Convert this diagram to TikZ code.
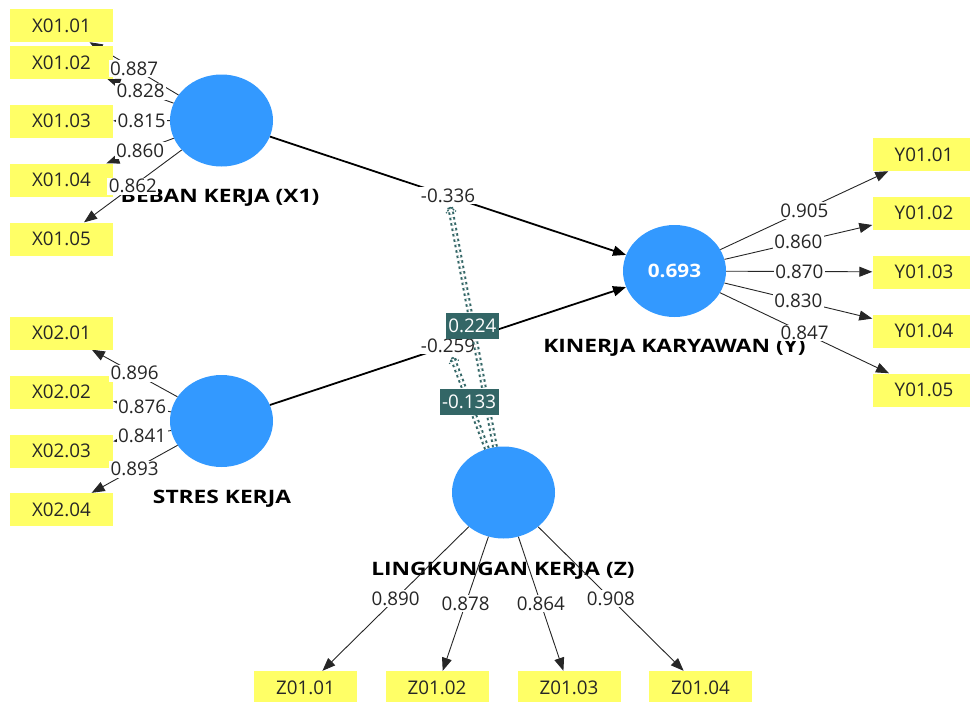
\documentclass[tikz,border=0pt]{standalone}
\usepackage{fontspec}
\setmainfont{Open Sans}
\usetikzlibrary{arrows.meta,shapes.geometric,decorations.markings}
\definecolor{lvblue}{HTML}{3399FF}
\definecolor{indyel}{HTML}{FFFF66}
\definecolor{modteal}{HTML}{336666}
\newcommand{\fs}{\fontsize{18.8}{21}\selectfont}
\newcommand{\fb}{\fontsize{18.5}{21}\selectfont\bfseries}
\newcommand{\wide}[2]{\scalebox{#1}[1]{#2}}
\begin{document}
\begin{tikzpicture}[x=1pt,y=-1pt,
  lv/.style={ellipse, fill=lvblue, minimum width=103pt, minimum height=92pt, inner sep=0pt},
  lvname/.style={anchor=base, font=\fb, text=black},
  ind/.style={rectangle, fill=indyel, minimum width=103pt, minimum height=33pt, inner sep=0pt, font=\fs, text=black!85},
  ld/.style={draw=black!85, line width=0.9pt, -{Triangle[length=13pt,width=10pt]}},
  pth/.style={draw=black, line width=1.8pt, -{Triangle[length=13pt,width=10pt]}},
  val/.style={fill=white, inner sep=1.5pt, font=\fs, text=black!85},
  modln/.style={draw=modteal, line width=2pt, double=white, double distance=1.8pt, dash pattern=on 2.5pt off 3pt},
  modtip/.style={postaction={decorate}, decoration={markings, mark=at position 1 with {\draw[modteal, line width=1.3pt, dash pattern=on 1.8pt off 1.2pt] (-3pt,0pt) -- (-8pt,5pt) (-3pt,0pt) -- (-8pt,-5pt);}}},
  modval/.style={fill=modteal, text=white, inner sep=2.5pt, minimum height=26pt, font=\fs}
]
\useasboundingbox (0,0) rectangle (970,702);
% latent variables
\node[lv] (X1) at (221.5,120.5) {};
\node[lv] (X2) at (221.5,421) {};
\node[lv, text=white, font=\fb] (Y) at (674.5,271) {\wide{1.12}{0.693}};
\node[lv] (Z) at (503.5,492.5) {};
% names
\node[lvname] (nX1) at (220,202) {\wide{1.23}{BEBAN KERJA (X1)}};
\node[lvname] (nX2) at (222,503) {\wide{1.23}{STRES KERJA}};
\node[lvname] (nY) at (674.5,352) {\wide{1.23}{KINERJA KARYAWAN (Y)}};
\node[lvname] (nZ) at (503,575) {\wide{1.23}{LINGKUNGAN KERJA (Z)}};
% indicator coordinates (boxes drawn after the arrows)
\path (61.5,25.5) coordinate (cx11) (61.5,62.5) coordinate (cx12) (61.5,121) coordinate (cx13)
      (61.5,180) coordinate (cx14) (61.5,239) coordinate (cx15)
      (61.5,333) coordinate (cx21) (61.5,392) coordinate (cx22) (61.5,451) coordinate (cx23) (61.5,509.5) coordinate (cx24)
      (924,154.5) coordinate (cy1) (924,213) coordinate (cy2) (924,272) coordinate (cy3) (924,331) coordinate (cy4) (924,390) coordinate (cy5)
      (305.5,687.5) coordinate (cz1) (437,687.5) coordinate (cz2) (569,687.5) coordinate (cz3) (700.5,687.5) coordinate (cz4);
% invisible placeholders with the box size, so arrows stop at box borders
\foreach \t in {x11,x12,x13,x14,x15,x21,x22,x23,x24,y1,y2,y3,y4,y5,z1,z2,z3,z4}
  \node[rectangle, minimum width=103pt, minimum height=33pt, inner sep=0pt] (\t) at (c\t) {};
% loading arrows
\foreach \t in {x11,x12,x13,x14,x15} \draw[ld] (X1) -- (\t);
\foreach \t in {x21,x22,x23,x24} \draw[ld] (X2) -- (\t);
\foreach \t in {y1,y2,y3,y4,y5} \draw[ld] (Y) -- (\t);
\foreach \t in {z1,z2,z3,z4} \draw[ld] (Z) -- (\t);
% indicator boxes
\node[ind] (bx11) at (cx11) {X01.01};
\node[ind] (bx12) at (cx12) {X01.02};
\node[ind] (bx13) at (cx13) {X01.03};
\node[ind] (bx14) at (cx14) {X01.04};
\node[ind] (bx15) at (cx15) {X01.05};
\node[ind] (bx21) at (cx21) {X02.01};
\node[ind] (bx22) at (cx22) {X02.02};
\node[ind] (bx23) at (cx23) {X02.03};
\node[ind] (bx24) at (cx24) {X02.04};
\node[ind] (by1) at (cy1) {Y01.01};
\node[ind] (by2) at (cy2) {Y01.02};
\node[ind] (by3) at (cy3) {Y01.03};
\node[ind] (by4) at (cy4) {Y01.04};
\node[ind] (by5) at (cy5) {Y01.05};
\node[ind] (bz1) at (cz1) {Z01.01};
\node[ind] (bz2) at (cz2) {Z01.02};
\node[ind] (bz3) at (cz3) {Z01.03};
\node[ind] (bz4) at (cz4) {Z01.04};
% structural paths
\draw[pth] (X1) -- (Y);
\draw[pth] (X2) -- (Y);
% loading values
\path (X1) -- node[val] {0.887} (x11);
\path (X1) -- node[val] {0.828} (x12);
\path (X1) -- node[val] {0.815} (x13);
\path (X1) -- node[val] {0.860} (x14);
\path (X1) -- node[val] {0.862} (x15);
\path (X2) -- node[val] {0.896} (x21);
\path (X2) -- node[val] {0.876} (x22);
\path (X2) -- node[val] {0.841} (x23);
\path (X2) -- node[val] {0.893} (x24);
\path (Y) -- node[val] {0.905} (y1);
\path (Y) -- node[val] {0.860} (y2);
\path (Y) -- node[val] {0.870} (y3);
\path (Y) -- node[val] {0.830} (y4);
\path (Y) -- node[val] {0.847} (y5);
\path (Z) -- node[val] {0.890} (z1);
\path (Z) -- node[val] {0.878} (z2);
\path (Z) -- node[val] {0.864} (z3);
\path (Z) -- node[val] {0.908} (z4);
% path coefficients
\path (X1) -- node[val] (p1) {-0.336} (Y);
\path (X2) -- node[val] (p2) {-0.259} (Y);
% moderating effects
\draw[modln, shorten >=3pt] (Z) -- (p1);
\draw[modln, shorten >=3pt] (Z) -- (p2);
\path[modtip] (Z) -- (p1);
\path[modtip] (Z) -- (p2);
\path (Z) -- node[modval] (m1) {0.224} (p1);
\path (Z) -- node[modval] (m2) {-0.133} (p2);
\end{tikzpicture}
\end{document}
